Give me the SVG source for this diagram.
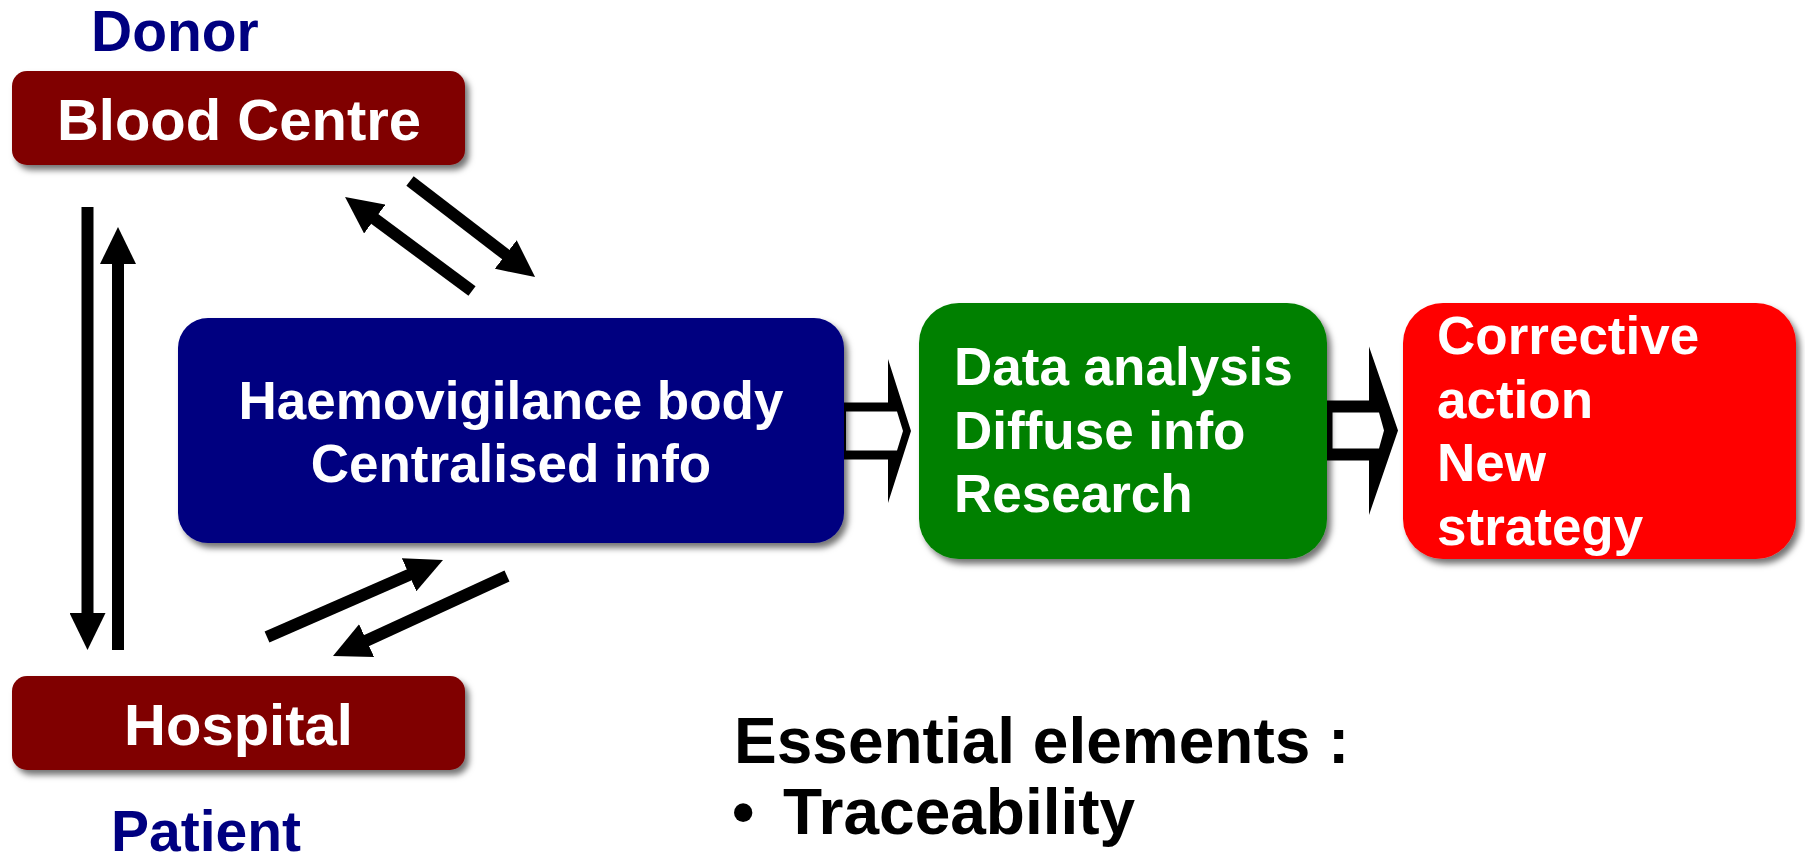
<svg xmlns="http://www.w3.org/2000/svg" width="1805" height="856" viewBox="0 0 1805 856">
<defs>
<style>
.t{font-family:"Liberation Sans",Arial,Helvetica,sans-serif;font-weight:bold}
.w{fill:#fff}
.nv{fill:#000080}
.k{fill:#000}
.ln{stroke:#000;stroke-width:12;fill:none;stroke-linecap:butt}
.box{filter:url(#sh)}
</style>
<filter id="sh" x="-10%" y="-10%" width="125%" height="130%">
<feDropShadow dx="4" dy="5" stdDeviation="3" flood-color="#000" flood-opacity="0.55"/>
</filter>
<marker id="ah" markerUnits="userSpaceOnUse" markerWidth="37" markerHeight="36" refX="1" refY="18" orient="auto" viewBox="0 0 37 36">
<path d="M0,0 L37,18 L0,36 z" fill="#000"/>
</marker>
</defs>
<rect width="1805" height="856" fill="#fff"/>

<g id="connectors">
<line class="ln" x1="87.5" y1="207" x2="87.5" y2="614" marker-end="url(#ah)"/>
<line class="ln" x1="118" y1="650" x2="118" y2="263" marker-end="url(#ah)"/>
<line class="ln" x1="472" y1="291" x2="374" y2="218.4" marker-end="url(#ah)"/>
<line class="ln" x1="410" y1="181" x2="506.5" y2="255.1" marker-end="url(#ah)"/>
<line class="ln" x1="267" y1="637" x2="410" y2="574.4" marker-end="url(#ah)"/>
<line class="ln" x1="507" y1="576" x2="365.7" y2="641" marker-end="url(#ah)"/>
<path fill="#000" fill-rule="evenodd" d="M836,402.5 L888,402.5 L888,359 L911,431 L888,503 L888,459.5 L836,459.5 Z M846,411.5 L897,411.5 L903,431 L897,450.5 L846,450.5 Z"/>
<path fill="#000" fill-rule="evenodd" d="M1324,400.5 L1369,400.5 L1369,346.5 L1398,430.5 L1369,515 L1369,460.5 L1324,460.5 Z M1332.5,412.5 L1379,412.5 L1384,430.5 L1379,448.5 L1332.5,448.5 Z"/>
</g>

<g id="donor"><text class="t nv" x="91" y="51" font-size="57">Donor</text></g>

<g id="blood-centre">
<rect class="box" x="12" y="71" width="453" height="94" rx="15" fill="#800000"/>
<text class="t w" x="239" y="140" font-size="58" text-anchor="middle">Blood Centre</text>
</g>

<g id="hospital">
<rect class="box" x="12" y="676" width="453" height="94" rx="15" fill="#800000"/>
<text class="t w" x="238.5" y="745" font-size="58" text-anchor="middle">Hospital</text>
</g>

<g id="patient"><text class="t nv" x="111" y="851" font-size="57">Patient</text></g>

<g id="haemovigilance">
<rect class="box" x="178" y="318" width="666" height="225" rx="30" fill="#000080"/>
<text class="t w" x="511" y="419" font-size="53" text-anchor="middle">Haemovigilance body</text>
<text class="t w" x="511" y="482" font-size="53" text-anchor="middle">Centralised info</text>
</g>

<g id="analysis">
<rect class="box" x="919" y="303" width="408" height="256" rx="40" fill="#008000"/>
<text class="t w" x="954" y="385" font-size="53">Data analysis</text>
<text class="t w" x="954" y="449" font-size="53">Diffuse info</text>
<text class="t w" x="954" y="512" font-size="53">Research</text>
</g>

<g id="corrective">
<rect class="box" x="1403" y="303" width="393" height="256" rx="40" fill="#ff0000"/>
<text class="t w" x="1437" y="354" font-size="53">Corrective</text>
<text class="t w" x="1437" y="418" font-size="53">action</text>
<text class="t w" x="1437" y="481" font-size="53">New</text>
<text class="t w" x="1437" y="545" font-size="53">strategy</text>
</g>

<g id="essential">
<text class="t k" x="734" y="763" font-size="64">Essential elements :</text>
<text class="t k" x="732" y="834" font-size="64">•</text>
<text class="t k" x="783" y="834" font-size="64">Traceability</text>
</g>
</svg>
